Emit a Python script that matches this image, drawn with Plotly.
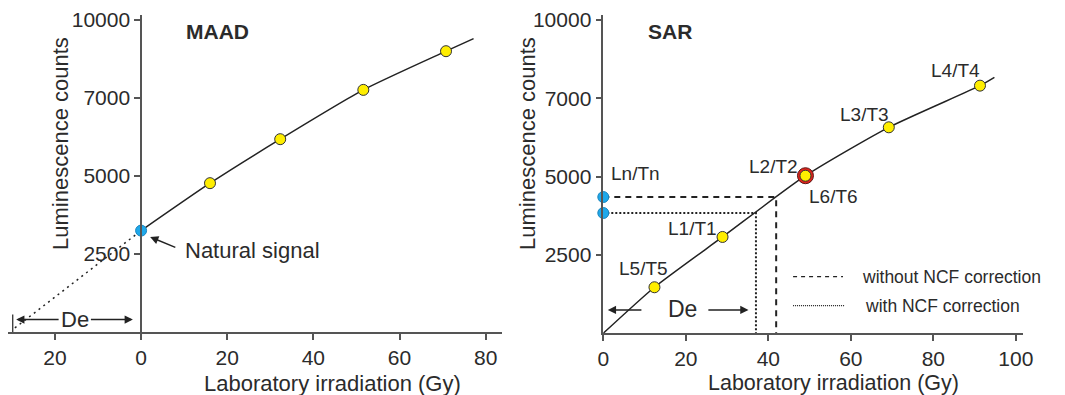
import plotly.graph_objects as go

# the page body adds an 8px margin; the figure is sized and placed to compensate
OFF = 8
W, H = 1065 - OFF, 395 - OFF

# ---------------- data ----------------
# MAAD panel
maad_dose = [16.0, 32.3, 51.6, 70.8]
maad_signal = [4770, 6180, 7760, 9000]
maad_nat_dose = [0]
maad_nat_signal = [3250]
maad_fit_end_dose = [77.2]
maad_fit_end_signal = [9405]
maad_extrap_dose = [-29.3]
maad_extrap_signal = [130]
maad_de = -29.8

# SAR panel
sar_dose = [12.4, 28.9, 49.0, 69.2, 91.3]
sar_signal = [1470, 3075, 5030, 6575, 7905]
sar_labels = ["L5/T5", "L1/T1", "L2/T2", "L3/T3", "L4/T4"]
sar_recycle_dose = [49.0]
sar_recycle_signal = [5030]
sar_fit_start = [0, 0]
sar_fit_end = [94.8, 8170]
ln_tn = [4350, 3840]
de_without_ncf = 41.9
de_with_ncf = 37.0

# axis ticks
y_tickvals = [2500, 5000, 7500, 10000]
y_ticktext = ["2500", "5000", "7000", "10000"]
maad_x_tickvals = [-20, 0, 20, 40, 60, 80]
maad_x_ticktext = ["20", "0", "20", "40", "60", "80"]
sar_x_tickvals = [0, 20, 40, 60, 80, 100]

# ---------------- styling ----------------
FONT = "Liberation Sans, Arial, sans-serif"
TXT = "#2b2b2b"
AX = "#555555"
YEL = "#FFEE00"
BLUE = "#1EA8EA"
RED = "#E2231A"
LINE = "#222222"


def px(x):
    return (x - OFF) / W


def py(y):
    return 1 - (y - OFF) / H


fig = go.Figure()

# ---- MAAD ----
fig.add_trace(go.Scatter(
    x=maad_extrap_dose + maad_nat_dose, y=maad_extrap_signal + maad_nat_signal,
    mode="lines", line=dict(color=LINE, width=1.5, dash="2px,4px"),
    xaxis="x", yaxis="y", showlegend=False, hoverinfo="skip"))
fig.add_trace(go.Scatter(
    x=maad_nat_dose + maad_dose + maad_fit_end_dose,
    y=maad_nat_signal + maad_signal + maad_fit_end_signal,
    mode="lines", line=dict(color=LINE, width=1.5, shape="spline", smoothing=0.6),
    xaxis="x", yaxis="y", showlegend=False, hoverinfo="skip"))
fig.add_trace(go.Scatter(
    x=maad_dose, y=maad_signal, mode="markers",
    marker=dict(size=11, color=YEL, line=dict(color="#333333", width=1)),
    xaxis="x", yaxis="y", showlegend=False, cliponaxis=False))
fig.add_trace(go.Scatter(
    x=maad_nat_dose, y=maad_nat_signal, mode="markers",
    marker=dict(size=11, color=BLUE, line=dict(color="#1a86bf", width=1)),
    xaxis="x", yaxis="y", showlegend=False, cliponaxis=False))
# De marker at the extrapolated intercept
fig.add_trace(go.Scatter(
    x=[maad_de, maad_de], y=[0, 560], mode="lines",
    line=dict(color=LINE, width=1.2),
    xaxis="x", yaxis="y", showlegend=False, hoverinfo="skip", cliponaxis=False))

# ---- SAR ----
fig.add_trace(go.Scatter(
    x=[0, de_without_ncf, de_without_ncf], y=[ln_tn[0], ln_tn[0], 0],
    mode="lines", line=dict(color=LINE, width=2, dash="6px,5px"),
    xaxis="x2", yaxis="y2", showlegend=False, hoverinfo="skip"))
fig.add_trace(go.Scatter(
    x=[0, de_with_ncf, de_with_ncf], y=[ln_tn[1], ln_tn[1], 0],
    mode="lines", line=dict(color=LINE, width=2, dash="2px,2px"),
    xaxis="x2", yaxis="y2", showlegend=False, hoverinfo="skip"))
fig.add_trace(go.Scatter(
    x=[sar_fit_start[0]] + sar_dose + [sar_fit_end[0]],
    y=[sar_fit_start[1]] + sar_signal + [sar_fit_end[1]],
    mode="lines", line=dict(color=LINE, width=1.5, shape="spline", smoothing=0.6),
    xaxis="x2", yaxis="y2", showlegend=False, hoverinfo="skip"))
fig.add_trace(go.Scatter(
    x=sar_recycle_dose, y=sar_recycle_signal, mode="markers",
    marker=dict(size=16, color=RED, line=dict(color="#5a1a1a", width=1)),
    xaxis="x2", yaxis="y2", showlegend=False, cliponaxis=False))
fig.add_trace(go.Scatter(
    x=sar_dose, y=sar_signal, mode="markers",
    marker=dict(size=11, color=YEL, line=dict(color="#333333", width=1)),
    xaxis="x2", yaxis="y2", showlegend=False, cliponaxis=False))
fig.add_trace(go.Scatter(
    x=[0, 0], y=ln_tn, mode="markers",
    marker=dict(size=11, color=BLUE, line=dict(color="#1a86bf", width=1)),
    xaxis="x2", yaxis="y2", showlegend=False, cliponaxis=False))
# legend samples
fig.add_trace(go.Scatter(
    x=[46.0, 58.1], y=[1807, 1807], mode="lines",
    line=dict(color=LINE, width=1.2, dash="4px,4px"),
    xaxis="x2", yaxis="y2", showlegend=False, hoverinfo="skip"))
fig.add_trace(go.Scatter(
    x=[46.0, 58.6], y=[881, 881], mode="lines",
    line=dict(color=LINE, width=1.2, dash="1px,1px"),
    xaxis="x2", yaxis="y2", showlegend=False, hoverinfo="skip"))

# ---------------- axes ----------------
maad_xrange = [-30.9, 83.8]
maad_dom = [px(8), px(502)]
maad_y0pos = maad_dom[0] + (0 - maad_xrange[0]) / (maad_xrange[1] - maad_xrange[0]) * (maad_dom[1] - maad_dom[0])

axis_common = dict(showgrid=False, zeroline=False, showline=True, linecolor=AX, linewidth=1.5,
                   ticks="outside", ticklen=6, tickwidth=1.5, tickcolor=AX,
                   tickfont=dict(family=FONT, size=21, color=TXT), automargin=False)

fig.update_layout(
    xaxis=dict(domain=maad_dom, range=maad_xrange, tickvals=maad_x_tickvals,
               ticktext=maad_x_ticktext, anchor="y", **axis_common),
    yaxis=dict(domain=[py(332), py(15)], range=[0, 10160], tickvals=y_tickvals,
               ticktext=y_ticktext, anchor="free", position=maad_y0pos, **axis_common),
    xaxis2=dict(domain=[px(603.3), px(1023.3)], range=[0, 101.8], tickvals=sar_x_tickvals,
                anchor="y2", **axis_common),
    yaxis2=dict(domain=[py(333.3), py(15)], range=[0, 10160], tickvals=y_tickvals,
                ticktext=y_ticktext, anchor="x2", **axis_common),
)

ann = []


def text(x, y, t, xref, yref, size=20, bold=False, xanchor="center", yanchor="middle", angle=0):
    ann.append(dict(x=x, y=y, xref=xref, yref=yref, text=("<b>%s</b>" % t) if bold else t,
                    showarrow=False, xanchor=xanchor, yanchor=yanchor, textangle=angle,
                    font=dict(family=FONT, size=size, color=TXT)))


def arrow(x0, y0, x1, y1, xr, yr):
    ann.append(dict(x=x1, y=y1, ax=x0, ay=y0, xref=xr, yref=yr, axref=xr, ayref=yr,
                    text="", showarrow=True, arrowhead=2, arrowsize=1.1, arrowwidth=1.5,
                    arrowcolor=LINE))


# MAAD texts
text(17.7, 9647, "MAAD", "x", "y", size=21, bold=True)
text(9.7, 2628, "Natural signal", "x", "y", size=22, xanchor="left")
arrow(8.3, 2692, 2.1, 3045, "x", "y")
text(-15.3, 400, "De", "x", "y", size=22)
arrow(-18.8, 400, -29.0, 400, "x", "y")
arrow(-12.0, 400, -1.9, 400, "x", "y")

# SAR texts
text(16.2, 9627, "SAR", "x2", "y2", size=21, bold=True)
label_pos = {"L5/T5": (9.7, 2075), "L1/T1": (21.6, 3339), "L2/T2": (41.2, 5318),
             "L3/T3": (63.4, 6990), "L4/T4": (85.3, 8382)}
for lab in sar_labels:
    lx, ly = label_pos[lab]
    text(lx, ly, lab, "x2", "y2", size=19)
text(55.8, 4382, "L6/T6", "x2", "y2", size=19)
text(7.7, 5085, "Ln/Tn", "x2", "y2", size=19)
text(19.2, 766, "De", "x2", "y2", size=23)
arrow(9.6, 744, 1.1, 744, "x2", "y2")
arrow(25.1, 744, 35.2, 744, "x2", "y2")
text(62.2, 1807, "without NCF correction", "x2", "y2", size=17.5, xanchor="left")
text(62.9, 881, "with NCF correction", "x2", "y2", size=17.5, xanchor="left")

# axis titles
text(px(60), py(144), "Luminescence counts", "paper", "paper", size=22, angle=-90)
text(px(527), py(144), "Luminescence counts", "paper", "paper", size=22, angle=-90)
text(px(332), py(383), "Laboratory irradiation (Gy)", "paper", "paper", size=22)
text(px(833), py(383), "Laboratory irradiation (Gy)", "paper", "paper", size=21.5)

fig.update_layout(
    annotations=ann,
    width=W, height=H,
    margin=dict(l=0, r=0, t=0, b=0, autoexpand=False),
    paper_bgcolor="white", plot_bgcolor="white",
    showlegend=False,
    font=dict(family=FONT, color=TXT),
)

fig.write_html("out.html")
